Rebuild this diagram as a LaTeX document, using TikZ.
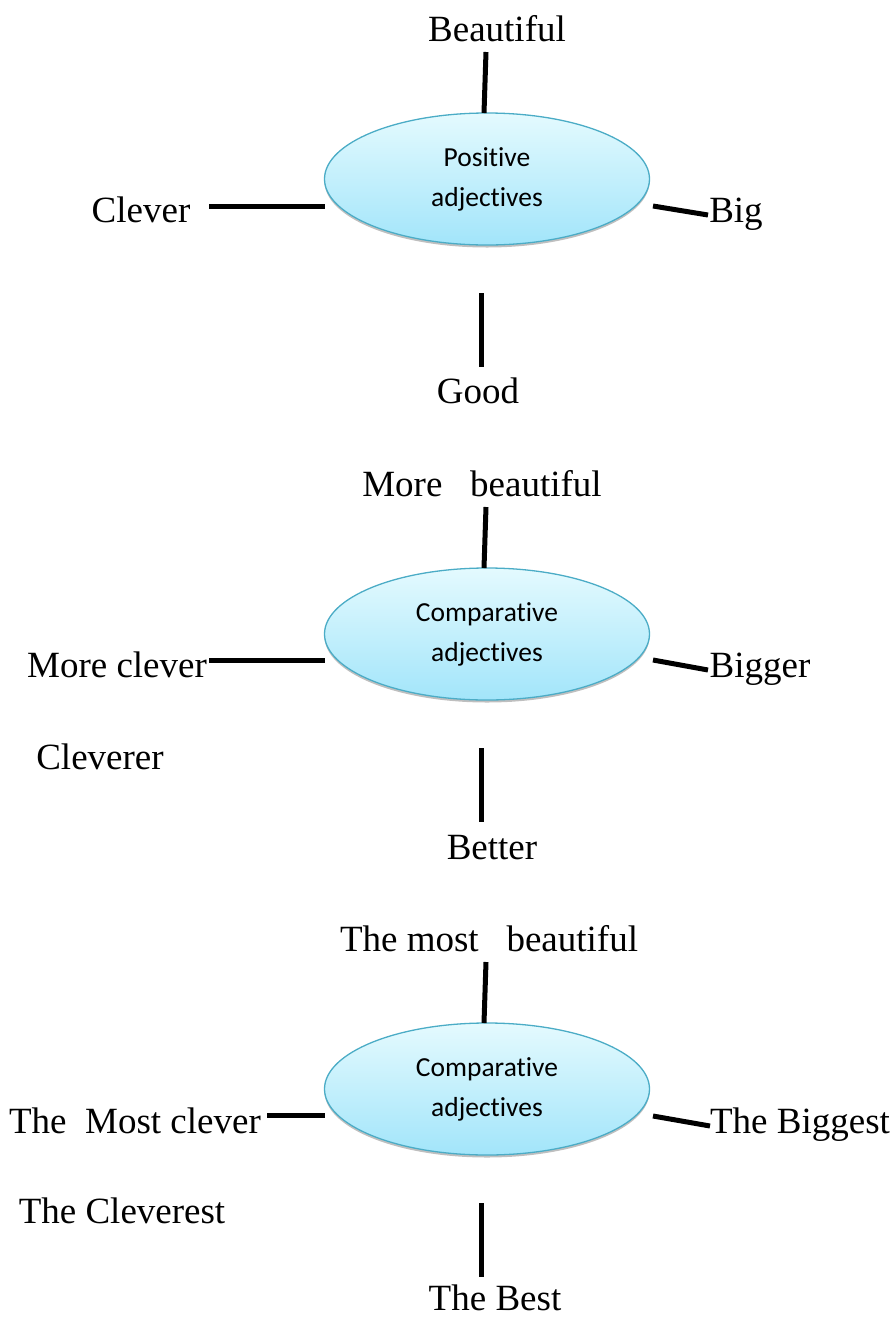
\documentclass[tikz,border=0pt]{standalone}
\usepackage{fontspec}
\setmainfont{Liberation Serif}
\newfontfamily\calib[RawFeature={-liga}]{Carlito}
\usetikzlibrary{shapes.geometric,shadows}
\definecolor{hubline}{HTML}{4BACC6}
\definecolor{hubtop}{HTML}{E4FAFE}
\definecolor{hubbot}{HTML}{A2E5FA}
\begin{document}
\begin{tikzpicture}[x=1pt,y=-1pt,
  word/.style={anchor=base,inner sep=0pt,font=\fontsize{37}{44}\selectfont},
  hub/.style={ellipse,draw=hubline,line width=1.3pt,
    top color=hubtop,bottom color=hubbot,
    minimum width=325pt,minimum height=132pt,inner sep=0pt,align=center,
    font=\calib\fontsize{27.5}{40}\selectfont,
    drop shadow={shadow xshift=0pt,shadow yshift=-2.5pt,fill=gray,opacity=0.5}},
  spoke/.style={line width=5pt}]
\useasboundingbox (0,0) rectangle (895,1318);
% ---------- Section 1 ----------
\node[hub] (e1) at (487,179) {\raisebox{-3pt}{Positive}\\\raisebox{-3pt}{adjectives}};
\node[word] (t1) at (497,41) {Beautiful};
\node[word] (l1) at (141,222) {Clever};
\node[word] (r1) at (736,222) {Big};
\node[word] (b1) at (478,403) {Good};
\coordinate (t1a) at (486,52);
\coordinate (t1b) at (484,113);
\coordinate (l1a) at (209,206);
\coordinate (l1b) at (325,206);
\coordinate (r1a) at (653,206);
\coordinate (r1b) at (708,215);
\coordinate (b1a) at (481,293);
\coordinate (b1b) at (481,367);
\draw[spoke] (t1a) -- (t1b);
\draw[spoke] (l1a) -- (l1b);
\draw[spoke] (r1a) -- (r1b);
\draw[spoke] (b1a) -- (b1b);
% ---------- Section 2 ----------
\node[hub] (e2) at (487,634) {\raisebox{-3pt}{Comparative}\\\raisebox{-3pt}{adjectives}};
\node[word] (t2) at (482,496) {More\ \ \ beautiful};
\node[word] (l2) at (117,677) {More clever};
\node[word] (r2) at (760,677) {Bigger};
\node[word] (x2) at (100,769) {Cleverer};
\node[word] (b2) at (492,859) {Better};
\coordinate (t2a) at (486,507);
\coordinate (t2b) at (484,568);
\coordinate (l2a) at (209,660);
\coordinate (l2b) at (325,660);
\coordinate (r2a) at (653,660);
\coordinate (r2b) at (708,670);
\coordinate (b2a) at (481,748);
\coordinate (b2b) at (481,822);
\draw[spoke] (t2a) -- (t2b);
\draw[spoke] (l2a) -- (l2b);
\draw[spoke] (r2a) -- (r2b);
\draw[spoke] (b2a) -- (b2b);
% ---------- Section 3 ----------
\node[hub] (e3) at (487,1089) {\raisebox{-3pt}{Comparative}\\\raisebox{-3pt}{adjectives}};
\node[word] (t3) at (489,951) {The most\ \ \ beautiful};
\node[word] (l3) at (135,1133) {The\ \ Most clever};
\node[word] (r3) at (800,1133) {The Biggest};
\node[word] (x3) at (122,1223) {The Cleverest};
\node[word] (b3) at (495,1310) {The Best};
\coordinate (t3a) at (486,962);
\coordinate (t3b) at (484,1023);
\coordinate (l3a) at (267,1115);
\coordinate (l3b) at (325,1115);
\coordinate (r3a) at (653,1116);
\coordinate (r3b) at (710,1126);
\coordinate (b3a) at (481,1203);
\coordinate (b3b) at (481,1277);
\draw[spoke] (t3a) -- (t3b);
\draw[spoke] (l3a) -- (l3b);
\draw[spoke] (r3a) -- (r3b);
\draw[spoke] (b3a) -- (b3b);
\end{tikzpicture}
\end{document}
